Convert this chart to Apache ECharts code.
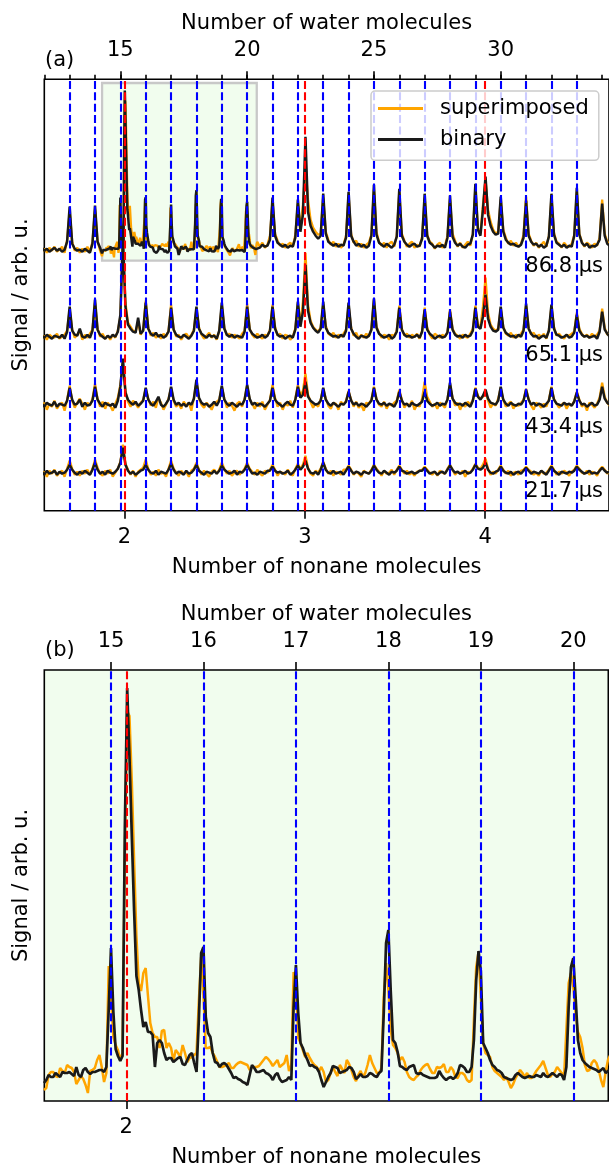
<!DOCTYPE html>
<html><head><meta charset="utf-8">
<script src="https://cdn.jsdelivr.net/npm/echarts@6/dist/echarts.min.js"></script>
<style>html,body{margin:0;padding:0;background:#fff}#c{width:609px;height:1170px}</style>
</head><body><div id="c"></div>
<script>
// ---------------- DATA ----------------
const timeLabels = ['86.8 µs', '65.1 µs', '43.4 µs', '21.7 µs'];
const waterLinesA = [13,14,15,16,17,18,19,20,21,22,23,24,25,26,27,28,29,30,31,32,33];
const waterLinesB = [15,16,17,18,19,20];
const nonaneLines = [2,3,4];
const waterTicksA = [15,20,25,30];
const waterMinorTicksA = [12,13,14,15,16,17,18,19,20,21,22,23,24,25,26,27,28,29,30,31,32,33,34];
const nonaneTicksA = [2,3,4];
const waterTicksB = [15,16,17,18,19,20];
const nonaneTicksB = [2];

// panel (a) traces: one row per water number n = 12..34, samples at n-0.1, n, n+0.1 ... n+0.8 (signal above baseline)
const t868Binary = [
[2,-1,1,-2,0,2,-1,1,-2,0],
[8,43,6,1,-1,0,-2,1,-1,-3],
[6,44,8,2,null,null,null,null,null,null],
null,null,null,null,null,
[null,null,null,null,null,null,2,5,3,4],
[10,52,14,7,5,3,5,2,4,3],
[12,50,18,35,113,38,24,18,14,11],
[14,56,16,8,6,4,6,3,5,4],
[12,58,14,8,4,6,3,5,2,4],
[14,65,15,7,5,3,6,4,2,5],
[13,61,14,8,5,3,5,6,3,4],
[11,56,14,7,5,2,4,3,5,2],
[12,54,13,7,4,6,3,2,5,6],
[15,66,20,14,40,73,35,24,18,15],
[16,53,18,10,7,5,6,4,3,5],
[12,49,14,8,5,6,3,5,2,4],
[13,56,15,7,5,3,5,2,4,3],
[14,62,15,7,4,6,2,4,3,5],
[10,46,14,6,4,3,5,2,4,3]];
const t868Super = [
[-2,1,-3,2,-1,3,-2,0,3,-3],
[10,38,8,-1,2,-3,1,-2,3,-2],
[8,40,9,-1,null,null,null,null,null,null],
null,null,null,null,null,
[null,null,null,null,null,null,3,7,2,5],
[14,48,16,9,4,6,2,5,7,3],
[15,46,20,45,83,50,30,22,18,15],
[16,52,18,10,5,8,3,6,2,5],
[14,55,16,7,9,3,6,2,5,7],
[15,60,18,8,4,7,2,6,8,3],
[14,58,16,9,3,6,8,2,5,3],
[13,52,15,8,6,1,5,7,2,4],
[14,50,16,9,3,7,2,5,8,4],
[16,62,22,16,45,70,40,28,20,16],
[18,50,20,12,6,9,4,7,3,6],
[15,53,16,9,4,7,2,5,8,3],
[14,52,17,8,6,2,7,4,3,6],
[15,58,16,8,3,7,5,2,6,4],
[12,50,16,8,5,2,6,4,3,5]];
const t651Binary = [
[1,-1,2,0,-2,1,0,-1,2,-2],
[5,30,6,2,1,8,0,-1,2,-1],
[6,37,7,2,0,-2,1,-1,2,0],
[5,22,100,30,12,8,5,4,19,3],
[6,34,8,3,1,4,0,2,-1,1],
[5,29,7,2,0,-1,2,0,-2,1],
[6,30,8,3,1,-1,2,0,1,-2],
[6,34,8,2,0,2,-1,1,0,-1],
[5,30,7,3,1,-1,0,2,-1,1],
[6,30,8,2,0,1,-2,0,1,-1],
[7,35,10,25,72,26,14,9,6,4],
[8,35,9,4,2,0,1,-1,2,0],
[6,34,8,3,0,-2,1,0,-1,1],
[7,38,9,3,1,-1,0,2,-2,0],
[5,29,7,2,0,1,-1,0,2,-1],
[5,27,7,3,1,-2,0,1,-1,0],
[4,25,7,2,0,1,-1,2,0,1],
[6,29,10,8,20,42,18,10,6,5],
[7,30,9,4,2,0,1,-1,2,0],
[6,33,8,3,0,1,-2,0,1,-1],
[6,32,8,2,1,-1,0,2,-1,0],
[4,22,6,2,0,1,-1,0,1,-2],
[5,25,7,3,0,1,-1,0,1,0]];
const t651Super = [
[-2,1,-3,2,0,-1,3,-2,0,2],
[6,27,7,-1,2,6,-3,2,-1,3],
[7,34,8,0,3,-2,1,-3,2,-1],
[6,20,92,34,14,10,6,5,15,2],
[7,36,9,1,4,-1,2,-2,3,0],
[6,32,8,0,2,-3,1,3,-1,2],
[7,28,9,2,-2,1,4,-1,2,-3],
[6,31,9,1,3,-1,2,0,-2,3],
[6,33,8,2,-1,3,0,-2,2,1],
[7,32,10,1,3,-2,2,1,-3,0],
[8,33,12,35,84,32,16,10,7,5],
[9,32,11,3,1,4,-1,2,0,3],
[7,31,9,1,4,-2,2,-1,3,0],
[8,36,10,4,-1,2,1,-3,2,1],
[6,31,8,1,3,-1,2,0,3,-2],
[6,29,9,2,-2,3,1,-1,2,0],
[5,27,8,3,1,-2,2,0,-1,3],
[8,31,12,10,30,59,24,12,8,6],
[8,28,10,3,1,4,-1,2,0,3],
[7,31,9,2,4,-1,2,0,3,-2],
[7,30,10,1,3,0,-2,2,1,3],
[5,24,8,3,0,2,-1,3,0,2],
[6,28,9,2,3,-1,2,0,-2,1]];
const t434Binary = [
[1,-2,2,0,-1,3,-2,1,0,-1],
[4,17,5,0,1,5,-2,2,-1,0],
[4,18,5,1,-2,2,0,-1,1,-3],
[4,18,46,12,5,2,0,3,-1,1],
[4,17,5,1,-1,3,8,0,-2,1],
[5,18,5,0,2,-1,1,-2,2,0],
[6,25,7,2,0,1,-2,0,3,-1],
[4,19,5,1,-1,2,0,-2,1,0],
[5,20,6,0,2,-1,1,0,-2,1],
[4,17,5,2,0,-2,1,3,0,-1],
[5,18,7,10,23,8,4,2,0,1],
[4,17,5,1,-1,2,0,-2,1,0],
[3,13,4,0,2,-1,1,0,-2,1],
[4,17,5,1,0,2,-1,1,0,-2],
[3,13,4,0,1,-2,2,0,-1,1],
[3,13,4,1,-1,0,2,-1,1,0],
[5,22,6,2,0,1,-1,2,0,-2],
[4,16,8,5,9,15,6,2,1,0],
[4,18,5,1,-1,2,0,-1,1,0],
[4,15,5,0,2,-1,1,0,-2,1],
[4,17,5,1,0,-1,2,0,1,-1],
[3,12,4,0,1,-2,0,2,-1,0],
[5,18,6,2,0,1,-1,0,1,0]];
const t434Super = [
[-3,2,-5,1,-2,4,-4,0,2,-6],
[5,19,4,-3,2,6,1,-5,2,-1],
[6,21,6,-2,3,-4,2,-1,-6,1],
[7,20,40,14,3,-2,4,1,-3,2],
[5,16,6,-1,3,-3,7,2,-5,0],
[6,17,4,-2,1,-4,3,-1,2,-6],
[7,22,6,0,-3,2,-1,-5,1,3],
[5,18,6,-3,2,-1,-6,1,3,-2],
[6,19,5,1,-4,2,-2,3,-5,0],
[5,20,7,-2,2,-5,1,-1,4,-3],
[6,20,9,14,31,10,3,-3,1,-2],
[5,16,6,-1,-4,2,1,-5,3,0],
[4,14,5,-2,3,-3,0,-6,2,1],
[5,18,6,0,-2,3,-4,1,-1,2],
[4,15,5,-3,1,-1,4,-5,0,-2],
[6,23,8,3,-2,1,-4,2,0,-3],
[6,20,7,-1,2,-5,1,-2,3,0],
[5,17,9,6,8,14,4,-3,1,-1],
[6,17,5,-2,1,3,-4,0,-1,2],
[5,16,6,-1,-5,2,0,-3,1,-2],
[5,18,6,1,-3,0,2,-4,1,-1],
[4,13,5,-2,1,-6,2,0,-3,1],
[7,22,8,2,-1,3,-2,1,-4,0]];
const t217Binary = [
[1,-2,2,-1,0,2,-2,1,-1,0],
[3,8,3,0,-2,1,-1,2,0,-2],
[3,10,3,-1,1,-2,2,0,-1,1],
[4,10,25,8,2,-1,1,-2,0,2],
[3,8,3,0,-1,2,-2,1,0,-1],
[3,9,3,-1,1,0,-2,2,-1,0],
[3,8,2,0,-2,1,0,-1,2,-1],
[2,7,3,1,-1,0,2,-2,1,0],
[3,8,3,-1,0,-2,1,0,-1,2],
[2,6,2,0,1,-1,0,2,-2,0],
[3,7,3,6,12,4,0,-1,1,-2],
[3,10,3,0,-1,2,-1,0,1,-2],
[2,6,2,-1,1,0,-2,1,0,-1],
[2,7,3,0,-1,2,0,-2,1,0],
[2,6,2,1,-1,0,1,-1,0,2],
[2,5,2,-1,0,1,-2,0,1,-1],
[3,7,3,0,1,-1,0,2,-1,0],
[3,8,4,3,5,10,3,0,-1,1],
[2,6,2,0,-1,1,-2,0,1,-1],
[2,5,2,-1,1,0,-1,2,0,-2],
[2,6,2,0,-2,1,0,-1,1,0],
[2,6,3,1,-1,0,2,-1,0,-1],
[2,5,2,0,1,-1,0,1,-1,0]];
const t217Super = [
[-2,1,-4,2,-1,3,-3,0,2,-4],
[4,12,4,-2,1,-3,2,-1,3,-2],
[4,13,5,-1,-3,2,-1,3,-4,0],
[4,11,28,9,3,-2,2,-4,1,3],
[5,13,4,-2,1,-3,3,-1,0,-4],
[4,12,4,0,-3,2,-1,1,-4,2],
[4,10,3,-2,2,-1,-4,1,3,-1],
[3,10,4,-1,2,-3,0,2,-2,1],
[4,10,4,1,-2,3,-1,-3,2,0],
[3,8,3,-3,1,0,-2,3,-1,-3],
[4,9,4,8,17,5,-1,-3,2,0],
[4,11,4,-1,2,-3,1,0,-2,3],
[3,7,3,-2,1,-1,-4,2,0,-1],
[3,8,4,1,-3,2,-1,0,3,-2],
[3,7,3,-1,2,-2,0,-3,1,2],
[3,6,3,0,-2,1,-3,2,0,-1],
[4,8,3,-2,1,-1,2,-4,1,0],
[4,9,5,4,8,14,4,-2,1,-1],
[3,7,3,-1,2,-3,0,1,-2,2],
[3,6,3,1,-2,0,-3,2,-1,0],
[3,7,3,-2,1,-1,2,0,-3,1],
[3,7,4,0,-1,2,-2,1,0,-3],
[3,6,3,-1,2,0,-2,1,-1,2]];

// panel (b): 86.8 µs trace, water 14.275 .. 20.4, step 0.025
const zoomBinary = [
18,21,26,24,24,28,26,24,29,28, 28,29,27,25,34,26,24,31,33,29,
27,29,29,30,31,31,29,34,91,153, 90,52,45,40,45,275,413,343,265,190,
125,111,91,74,79,69,69,66,34,58, 61,58,48,41,43,43,39,41,43,44,
37,36,41,46,48,38,29,81,148,154, 84,68,64,48,39,38,34,37,38,36,
32,28,23,24,22,21,19,18,16,26, 36,33,29,29,30,31,28,27,25,21,
26,28,22,19,20,21,24,21,94,136, 88,58,53,46,41,35,36,34,33,29,
21,14,19,24,28,35,34,33,28,29, 30,31,34,33,29,22,24,27,24,24,
25,28,27,25,24,28,30,88,158,171, 111,61,58,49,35,34,32,31,34,35,
36,28,27,28,26,25,24,23,23,23, 24,30,26,23,21,23,24,22,24,28,
36,35,33,29,29,34,61,121,150,130, 58,53,48,41,36,34,31,30,28,24,
23,22,21,22,26,28,26,24,23,24, 25,24,24,26,25,24,28,25,24,26,
28,26,24,27,26,21,34,94,134,143, 104,61,48,41,38,36,34,33,32,31,
29,31,33,28,30,31];
const zoomSuper = [
11,13,26,29,29,25,24,33,30,28, 36,34,33,29,17,21,25,22,16,8,
30,31,33,41,46,34,19,28,135,104, 64,56,51,41,48,250,390,385,320,240,
165,118,110,128,133,105,78,68,64,64, 53,70,71,53,58,53,40,51,48,44,
56,48,39,43,44,46,48,100,144,105, 53,53,54,48,44,39,34,34,35,36,
38,33,33,36,38,39,38,37,36,31, 34,34,34,35,38,41,44,42,39,35,
38,41,34,36,38,46,30,36,129,118, 63,58,51,44,48,43,39,36,34,30,
34,29,19,21,28,34,29,25,36,32, 28,41,37,31,24,20,26,30,24,28,
36,46,38,33,28,28,33,104,138,111, 71,56,53,48,41,44,39,29,24,22,
21,24,26,31,34,36,37,32,28,28, 34,33,34,37,29,29,34,31,24,23,
28,28,26,21,19,21,81,134,149,104, 58,48,46,44,34,30,28,26,24,21,
24,19,13,17,23,27,31,28,24,28, 23,23,26,30,33,36,40,33,26,24,
27,29,34,31,28,24,71,118,128,114, 88,69,64,53,36,30,31,38,41,38,
31,21,14,29,41,46];

// ---------------- LAYOUT / CONVERSION ----------------
const rowFirstWater = 12, rowFirstOffset = -0.1, rowStep = 0.1;
const zoomStart = 14.275, zoomStep = 0.025;
const waterAtNonane2 = 15.165, waterPerNonane = 7.11;
const aWaterMin = 12, aWaterMax = 34.27;
const bWaterMin = 14.2786, bWaterMax = 20.3786;
const toNonane = w => 2 + (w - waterAtNonane2) / waterPerNonane;
const aYMax = 431.4, bYMax = 431;
const traceOffsets = [261, 174, 106, 38];
const insetBaseA = 250, insetScale = 0.4123;

const ORANGE = '#ffa500', BLACK = '#1a1a1a', FONT = 'DejaVu Sans', FS = 21;

function rowsToPoints(rows, offset, keep) {
  const pts = [];
  rows.forEach((row, r) => {
    if (!row) return;
    row.forEach((v, j) => {
      if (v === null) return;
      const x = Math.round((rowFirstWater + r + rowFirstOffset + j * rowStep) * 1000) / 1000;
      if (keep && !keep(x)) return;
      pts.push([x, offset + v]);
    });
  });
  return pts;
}
function zoomPoints(arr, toY) {
  return arr.map((u, i) => [Math.round((zoomStart + i * zoomStep) * 1000) / 1000, toY(u)]);
}
function topTrace(rows, zoomArr) {
  return rowsToPoints(rows, traceOffsets[0], x => x < bWaterMin)
    .concat(zoomPoints(zoomArr, u => insetBaseA + insetScale * u))
    .concat(rowsToPoints(rows, traceOffsets[0], x => x > bWaterMax + 0.01));
}

const traceRows = [[t868Super, t868Binary], [t651Super, t651Binary], [t434Super, t434Binary], [t217Super, t217Binary]];

const lineSeries = (name, color, data, xi, yi, w) => ({
  type: 'line', name, data, xAxisIndex: xi, yAxisIndex: yi, showSymbol: false, symbol: 'none',
  color, itemStyle: {color}, lineStyle: {color, width: w}, clip: true, silent: true, z: 2
});

const series = [];
// inset rectangle + blue lines in (a)
series.push({
  type: 'line', name: 'refA', data: [], xAxisIndex: 1, yAxisIndex: 0, silent: true,
  markArea: {silent: true, itemStyle: {color: '#f1fdee', borderColor: '#c8c8c8', borderWidth: 2.3},
    data: [[{xAxis: bWaterMin, yAxis: insetBaseA}, {xAxis: bWaterMax, yAxis: insetBaseA + insetScale * bYMax}]]}
});
traceRows.forEach((pair, k) => {
  const sup = k === 0 ? topTrace(pair[0], zoomSuper) : rowsToPoints(pair[0], traceOffsets[k]);
  const bin = k === 0 ? topTrace(pair[1], zoomBinary) : rowsToPoints(pair[1], traceOffsets[k]);
  series.push(lineSeries('superimposed', ORANGE, sup, 1, 0, 2.3));
  series.push(lineSeries('binary', BLACK, bin, 1, 0, 2.5));
});
const dashStyle = c => ({color: c, width: 2.1, type: [8, 3.4], opacity: 1});
series.push({
  type: 'line', name: 'blueA', data: [], xAxisIndex: 1, yAxisIndex: 0, silent: true,
  markLine: {silent: true, symbol: ['none', 'none'], label: {show: false}, lineStyle: dashStyle('#0000ff'),
    animation: false, data: waterLinesA.map(w => ({xAxis: w}))}
});
series.push({
  type: 'line', name: 'redA', data: [], xAxisIndex: 0, yAxisIndex: 0, silent: true,
  markLine: {silent: true, symbol: ['none', 'none'], label: {show: false}, lineStyle: dashStyle('#ff0000'),
    animation: false, data: nonaneLines.map(n => ({xAxis: n}))}
});
// panel (b)
series.push(lineSeries('superimposed', ORANGE, zoomPoints(zoomSuper, u => u), 4, 1, 2.5));
series.push(lineSeries('binary', BLACK, zoomPoints(zoomBinary, u => u), 4, 1, 2.7));
series.push({
  type: 'line', name: 'blueB', data: [], xAxisIndex: 4, yAxisIndex: 1, silent: true,
  markLine: {silent: true, symbol: ['none', 'none'], label: {show: false}, lineStyle: dashStyle('#0000ff'),
    animation: false, data: waterLinesB.map(w => ({xAxis: w}))}
});
series.push({
  type: 'line', name: 'redB', data: [], xAxisIndex: 3, yAxisIndex: 1, silent: true,
  markLine: {silent: true, symbol: ['none', 'none'], label: {show: false}, lineStyle: dashStyle('#ff0000'),
    animation: false, data: nonaneLines.map(n => ({xAxis: n}))}
});

const txt = {fontFamily: FONT, fontSize: FS, color: '#000'};
const tick = (vals, len) => ({show: true, customValues: vals, length: len, inside: false, lineStyle: {color: '#000', width: 1.6}});
function xAx(grid, pos, min, max, ticks, opts) {
  return Object.assign({
    type: 'value', gridIndex: grid, position: pos, min, max,
    axisLine: {show: false}, splitLine: {show: false},
    axisTick: tick(ticks, 8),
    axisLabel: {show: true, customValues: ticks, margin: pos === 'top' ? 18 : 16, ...txt},
    nameLocation: 'middle', nameTextStyle: txt
  }, opts || {});
}

const option = {
  animation: false,
  backgroundColor: '#fff',
  grid: [
    {left: 44.3, top: 79.3, width: 565.2, height: aYMax, show: true, borderColor: '#000', borderWidth: 1.6, backgroundColor: 'transparent'},
    {left: 44.3, top: 670, width: 564, height: bYMax, show: true, borderColor: '#000', borderWidth: 1.6, backgroundColor: '#f1fdee'}
  ],
  xAxis: [
    xAx(0, 'bottom', toNonane(aWaterMin), toNonane(aWaterMax), nonaneTicksA, {name: 'Number of nonane molecules', nameGap: 46}),
    xAx(0, 'top', aWaterMin, aWaterMax, waterTicksA, {name: 'Number of water molecules', nameGap: 45}),
    xAx(0, 'top', aWaterMin, aWaterMax, waterMinorTicksA, {axisTick: tick(waterMinorTicksA, 4.5), axisLabel: {show: false}}),
    xAx(1, 'bottom', toNonane(bWaterMin), toNonane(bWaterMax), nonaneTicksB, {name: 'Number of nonane molecules', nameGap: 46}),
    xAx(1, 'top', bWaterMin, bWaterMax, waterTicksB, {name: 'Number of water molecules', nameGap: 45})
  ],
  yAxis: [0, 1].map(g => ({
    type: 'value', gridIndex: g, min: 0, max: g === 0 ? aYMax : bYMax,
    axisLine: {show: false}, axisTick: {show: false}, axisLabel: {show: false}, splitLine: {show: false},
    name: 'Signal / arb. u.', nameLocation: 'middle', nameGap: 12, nameTextStyle: txt
  })),
  legend: {
    data: ['superimposed', 'binary'], orient: 'vertical', left: 371, top: 91,
    icon: 'rect', itemWidth: 45, itemHeight: 3, itemGap: 5, selectedMode: false,
    padding: [4.6, 10, 7.7, 7], backgroundColor: 'rgba(255,255,255,0.8)',
    borderColor: '#cccccc', borderWidth: 1.5, borderRadius: 4, z: 20,
    textStyle: {fontFamily: FONT, fontSize: FS, color: '#000', lineHeight: 26, padding: [0, 0, 0, 12]}
  },
  graphic: [
    {type: 'text', z: 30, style: {x: 45, y: 61, text: '(a)', font: FS + 'px "' + FONT + '"', fill: '#000', textVerticalAlign: 'middle'}},
    {type: 'text', z: 30, style: {x: 45, y: 651, text: '(b)', font: FS + 'px "' + FONT + '"', fill: '#000', textVerticalAlign: 'middle'}}
  ].concat(timeLabels.map((t, k) => ({
    type: 'text', z: 30,
    style: {x: 603, y: [267, 356, 428, 492][k], text: t, font: FS + 'px "' + FONT + '"', fill: '#000', textAlign: 'right', textVerticalAlign: 'middle'}
  }))),
  series
};
const chart = echarts.init(document.getElementById('c'), null, {renderer: 'canvas'});
chart.setOption(option);
</script></body></html>
